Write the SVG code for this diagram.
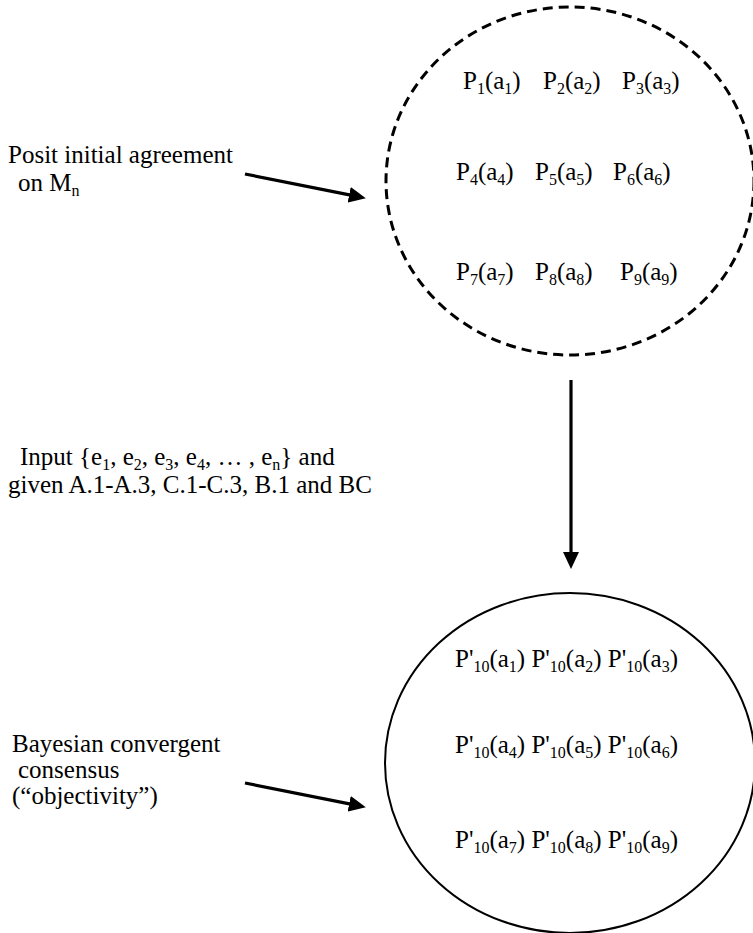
<svg xmlns="http://www.w3.org/2000/svg" width="753" height="933" viewBox="0 0 753 933">
<style>
text{font-family:"Liberation Serif","Times New Roman",serif;font-size:25px;fill:#000}
.s{font-size:16px}
.conn{stroke:#000;stroke-width:3.2;fill:none}
</style>
<defs>
<marker id="ah" markerUnits="userSpaceOnUse" markerWidth="18" markerHeight="17" refX="8" refY="8" orient="auto" viewBox="0 0 18 16">
<path d="M0,0 L17,8 L0,16 z" fill="#000"/>
</marker>
</defs>
<rect width="753" height="933" fill="#fff"/>

<g id="initial-state">
<ellipse cx="570" cy="181" rx="184" ry="174" fill="none" stroke="#000" stroke-width="3" stroke-dasharray="10 6"/>
<text x="463" y="89">P<tspan class="s" dy="5">1</tspan><tspan dy="-5">(a</tspan><tspan class="s" dy="5">1</tspan><tspan dy="-5">)</tspan></text>
<text x="543" y="89">P<tspan class="s" dy="5">2</tspan><tspan dy="-5">(a</tspan><tspan class="s" dy="5">2</tspan><tspan dy="-5">)</tspan></text>
<text x="622" y="89">P<tspan class="s" dy="5">3</tspan><tspan dy="-5">(a</tspan><tspan class="s" dy="5">3</tspan><tspan dy="-5">)</tspan></text>
<text x="456" y="180">P<tspan class="s" dy="5">4</tspan><tspan dy="-5">(a</tspan><tspan class="s" dy="5">4</tspan><tspan dy="-5">)</tspan></text>
<text x="535" y="180">P<tspan class="s" dy="5">5</tspan><tspan dy="-5">(a</tspan><tspan class="s" dy="5">5</tspan><tspan dy="-5">)</tspan></text>
<text x="613" y="180">P<tspan class="s" dy="5">6</tspan><tspan dy="-5">(a</tspan><tspan class="s" dy="5">6</tspan><tspan dy="-5">)</tspan></text>
<text x="456" y="280">P<tspan class="s" dy="5">7</tspan><tspan dy="-5">(a</tspan><tspan class="s" dy="5">7</tspan><tspan dy="-5">)</tspan></text>
<text x="535" y="280">P<tspan class="s" dy="5">8</tspan><tspan dy="-5">(a</tspan><tspan class="s" dy="5">8</tspan><tspan dy="-5">)</tspan></text>
<text x="620" y="280">P<tspan class="s" dy="5">9</tspan><tspan dy="-5">(a</tspan><tspan class="s" dy="5">9</tspan><tspan dy="-5">)</tspan></text>
</g>

<g id="consensus-state">
<ellipse cx="570" cy="763" rx="185" ry="170" fill="none" stroke="#000" stroke-width="2"/>
<text x="455" y="667">P'<tspan class="s" dy="5">10</tspan><tspan dy="-5">(a</tspan><tspan class="s" dy="5">1</tspan><tspan dy="-5">) P'</tspan><tspan class="s" dy="5">10</tspan><tspan dy="-5">(a</tspan><tspan class="s" dy="5">2</tspan><tspan dy="-5">) P'</tspan><tspan class="s" dy="5">10</tspan><tspan dy="-5">(a</tspan><tspan class="s" dy="5">3</tspan><tspan dy="-5">)</tspan></text>
<text x="455" y="753">P'<tspan class="s" dy="5">10</tspan><tspan dy="-5">(a</tspan><tspan class="s" dy="5">4</tspan><tspan dy="-5">) P'</tspan><tspan class="s" dy="5">10</tspan><tspan dy="-5">(a</tspan><tspan class="s" dy="5">5</tspan><tspan dy="-5">) P'</tspan><tspan class="s" dy="5">10</tspan><tspan dy="-5">(a</tspan><tspan class="s" dy="5">6</tspan><tspan dy="-5">)</tspan></text>
<text x="455" y="848">P'<tspan class="s" dy="5">10</tspan><tspan dy="-5">(a</tspan><tspan class="s" dy="5">7</tspan><tspan dy="-5">) P'</tspan><tspan class="s" dy="5">10</tspan><tspan dy="-5">(a</tspan><tspan class="s" dy="5">8</tspan><tspan dy="-5">) P'</tspan><tspan class="s" dy="5">10</tspan><tspan dy="-5">(a</tspan><tspan class="s" dy="5">9</tspan><tspan dy="-5">)</tspan></text>
</g>

<g id="label-posit">
<text x="8" y="163">Posit initial agreement</text>
<text x="18" y="191">on M<tspan class="s" dy="5">n</tspan></text>
</g>

<g id="label-input">
<text x="20" y="465">Input {e<tspan class="s" dy="5">1</tspan><tspan dy="-5">, e</tspan><tspan class="s" dy="5">2</tspan><tspan dy="-5">, e</tspan><tspan class="s" dy="5">3</tspan><tspan dy="-5">, e</tspan><tspan class="s" dy="5">4</tspan><tspan dy="-5">, … , e</tspan><tspan class="s" dy="5">n</tspan><tspan dy="-5">} and</tspan></text>
<text x="8" y="493">given A.1-A.3, C.1-C.3, B.1 and BC</text>
</g>

<g id="label-bayesian">
<text x="12" y="752">Bayesian convergent</text>
<text x="18" y="778">consensus</text>
<text x="12" y="804">(“objectivity”)</text>
</g>

<g id="connectors">
<line class="conn" x1="245" y1="174" x2="357" y2="196.4" marker-end="url(#ah)"/>
<line class="conn" x1="245" y1="783" x2="357" y2="805.4" marker-end="url(#ah)"/>
<line class="conn" x1="571" y1="380" x2="571" y2="560" marker-end="url(#ah)"/>
</g>
</svg>
